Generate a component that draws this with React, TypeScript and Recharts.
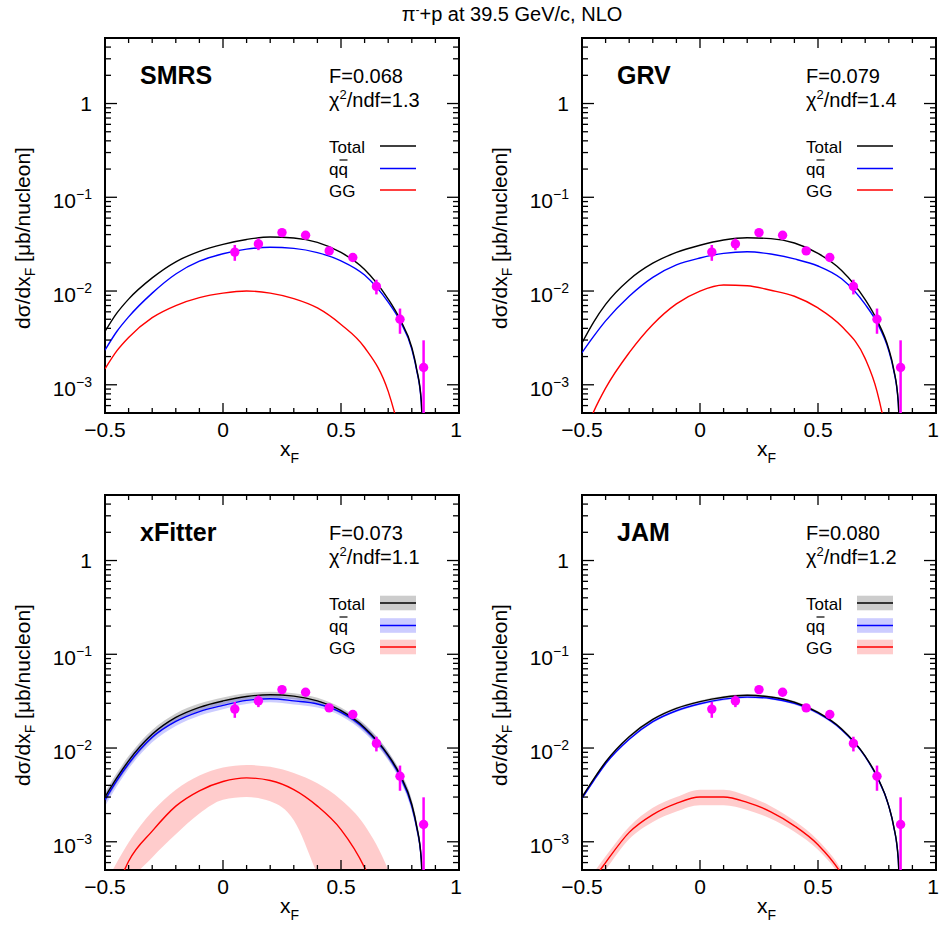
import React from 'react';
import { ComposedChart, Line, Area, Scatter, ErrorBar, XAxis, YAxis, ReferenceArea } from 'recharts';

// x grid of the theory curves
const XS = [-0.5, -0.45, -0.4, -0.3, -0.2, -0.1, 0, 0.1, 0.2, 0.3, 0.4, 0.5, 0.6, 0.7, 0.75, 0.8, 0.82, 0.84, 0.85];

// SMRS
const SMRS_TOTAL = [0.0037, 0.0058, 0.0082, 0.0138, 0.0205, 0.0265, 0.0315, 0.0355, 0.0377, 0.0368, 0.033, 0.0258, 0.017, 0.0082, 0.005, 0.0025, 0.0015, 0.00068, 0.0001];
const SMRS_QQ = [0.00234, 0.0037, 0.0053, 0.0095, 0.0152, 0.0208, 0.025, 0.028, 0.0293, 0.0285, 0.0257, 0.021, 0.0148, 0.0076, 0.0048, 0.0024, 0.00145, 0.00066, 0.0001];
const SMRS_GG = [0.00148, 0.0023, 0.0032, 0.0052, 0.007, 0.0085, 0.0095, 0.01, 0.0095, 0.0083, 0.0066, 0.0044, 0.0025, 0.00085, 0.0003, 0.00008, 0.00005, 0.00004, 0.00004];

// GRV
const GRV_TOTAL = [0.0028, 0.0047, 0.0072, 0.0132, 0.0198, 0.0258, 0.0308, 0.035, 0.037, 0.0362, 0.0325, 0.0252, 0.0166, 0.0081, 0.0049, 0.0024, 0.0015, 0.00066, 0.0001];
const GRV_QQ = [0.0022, 0.0033, 0.0048, 0.0088, 0.014, 0.019, 0.0225, 0.0252, 0.0262, 0.0248, 0.022, 0.0185, 0.0135, 0.0072, 0.0046, 0.0023, 0.00145, 0.00065, 0.0001];
const GRV_GG = [0.00025, 0.00052, 0.00092, 0.0022, 0.0044, 0.0073, 0.01, 0.0116, 0.0114, 0.0102, 0.0088, 0.0066, 0.0042, 0.0019, 0.00085, 0.0002, 0.00008, 0.00005, 0.00005];

// xFitter
const XF_TOTAL = [0.003, 0.0048, 0.0073, 0.014, 0.0212, 0.0272, 0.0318, 0.0355, 0.037, 0.0358, 0.0318, 0.025, 0.0165, 0.0084, 0.0052, 0.0025, 0.0015, 0.00066, 0.0001];
const XF_TOTAL_HI = [0.0034, 0.0054, 0.0082, 0.0156, 0.0234, 0.0298, 0.0346, 0.0384, 0.0398, 0.0385, 0.0343, 0.027, 0.018, 0.0092, 0.0057, 0.0028, 0.0017, 0.00075, 0.00012];
const XF_TOTAL_LO = [0.0026, 0.0042, 0.0064, 0.0125, 0.0191, 0.0248, 0.0292, 0.0328, 0.0343, 0.0332, 0.0294, 0.0231, 0.0151, 0.0076, 0.0047, 0.0022, 0.0013, 0.00057, 0.00008];
const XF_QQ = [0.0028, 0.0045, 0.0068, 0.013, 0.0192, 0.0245, 0.0285, 0.0322, 0.0336, 0.0318, 0.0295, 0.024, 0.016, 0.0082, 0.005, 0.0024, 0.00145, 0.00065, 0.0001];
const XF_QQ_HI = [0.0032, 0.0051, 0.0077, 0.0146, 0.0213, 0.0269, 0.0311, 0.0349, 0.0364, 0.0345, 0.032, 0.026, 0.0175, 0.009, 0.0055, 0.0027, 0.0016, 0.00073, 0.00012];
const XF_QQ_LO = [0.0024, 0.0039, 0.006, 0.0115, 0.0172, 0.0221, 0.0259, 0.0295, 0.0308, 0.0291, 0.027, 0.022, 0.0145, 0.0074, 0.0045, 0.0021, 0.0013, 0.00057, 0.00008];
const XF_GG = [0.00015, 0.00032, 0.00062, 0.0013, 0.0024, 0.0035, 0.0044, 0.0048, 0.0045, 0.0036, 0.0024, 0.00135, 0.00053, 0.00012, 0.00006, 0.00004, 0.00003, 0.00003, 0.00003];
const XF_GG_HI = [0.00035, 0.0006, 0.00098, 0.0021, 0.0036, 0.0051, 0.0062, 0.0066, 0.0063, 0.0054, 0.0042, 0.0028, 0.0015, 0.0005, 0.00022, 0.0001, 0.00007, 0.00006, 0.00006];
const XF_GG_LO = [0.0001, 0.0002, 0.00035, 0.00068, 0.0012, 0.002, 0.0028, 0.003, 0.0027, 0.0017, 0.00045, 0.00012, 0.00004, 0.00002, 0.00002, 0.00002, 0.00002, 0.00002, 0.00002];

// JAM
const JAM_TOTAL = [0.003, 0.0047, 0.0071, 0.0132, 0.0202, 0.0265, 0.0313, 0.0348, 0.0365, 0.035, 0.0308, 0.024, 0.016, 0.0082, 0.005, 0.0024, 0.0015, 0.00066, 0.0001];
const JAM_TOTAL_HI = [0.0031, 0.0048, 0.0073, 0.0136, 0.0208, 0.0273, 0.0322, 0.0358, 0.0376, 0.036, 0.0317, 0.0247, 0.0165, 0.0084, 0.0052, 0.0025, 0.00155, 0.00068, 0.00011];
const JAM_TOTAL_LO = [0.0029, 0.0046, 0.0069, 0.0128, 0.0196, 0.0257, 0.0304, 0.0338, 0.0354, 0.034, 0.0299, 0.0233, 0.0155, 0.008, 0.0048, 0.0023, 0.00145, 0.00064, 0.00009];
const JAM_QQ = [0.0029, 0.0045, 0.0068, 0.0124, 0.0191, 0.025, 0.0297, 0.0332, 0.0349, 0.0338, 0.0299, 0.0235, 0.0157, 0.0081, 0.0049, 0.0024, 0.00148, 0.00065, 0.0001];
const JAM_QQ_HI = [0.003, 0.0046, 0.007, 0.0128, 0.0197, 0.0258, 0.0306, 0.0342, 0.0359, 0.0348, 0.0308, 0.0242, 0.0162, 0.0083, 0.005, 0.0025, 0.00152, 0.00067, 0.00011];
const JAM_QQ_LO = [0.0028, 0.0044, 0.0066, 0.012, 0.0185, 0.0242, 0.0288, 0.0322, 0.0339, 0.0328, 0.029, 0.0228, 0.0152, 0.0079, 0.0048, 0.0023, 0.00144, 0.00063, 0.00009];
const JAM_GG = [0.00025, 0.0004, 0.0006, 0.00126, 0.00195, 0.00257, 0.003, 0.003, 0.00263, 0.00209, 0.00148, 0.00093, 0.00045, 0.000126, 0.00006, 0.00004, 0.00003, 0.00003, 0.00003];
const JAM_GG_HI = [0.0003, 0.00047, 0.0007, 0.00145, 0.0023, 0.003, 0.0036, 0.0036, 0.0031, 0.0024, 0.00168, 0.00104, 0.0005, 0.00014, 0.00007, 0.00004, 0.00003, 0.00003, 0.00003];
const JAM_GG_LO = [0.0002, 0.00033, 0.0005, 0.00107, 0.00163, 0.0021, 0.00245, 0.00245, 0.00218, 0.00176, 0.00128, 0.00082, 0.0004, 0.00011, 0.00005, 0.00003, 0.00002, 0.00002, 0.00002];

// data points (same in every panel)
const DATA_X = [0.05, 0.15, 0.25, 0.35, 0.45, 0.55, 0.65, 0.75, 0.85];
const DATA_Y = [0.026, 0.0318, 0.042, 0.0394, 0.0268, 0.0228, 0.0112, 0.005, 0.00153];
const DATA_ERR_LO = [0.005, 0.0045, 0.002, 0.002, 0.002, 0.0015, 0.002, 0.0015, 0.00103];
const DATA_ERR_HI = [0.005, 0.0045, 0.002, 0.002, 0.002, 0.0015, 0.002, 0.0015, 0.00145];

// axis ticks
const X_TICKS = [-0.5, -0.4, -0.3, -0.2, -0.1, 0, 0.1, 0.2, 0.3, 0.4, 0.5, 0.6, 0.7, 0.8, 0.9, 1];
const Y_TICKS = [
  0.0005, 0.0006, 0.0007, 0.0008, 0.0009,
  0.001, 0.002, 0.003, 0.004, 0.005, 0.006, 0.007, 0.008, 0.009,
  0.01, 0.02, 0.03, 0.04, 0.05, 0.06, 0.07, 0.08, 0.09,
  0.1, 0.2, 0.3, 0.4, 0.5, 0.6, 0.7, 0.8, 0.9,
  1, 2, 3, 4, 5,
];

const PANELS = [
  { name: 'SMRS', f: 'F=0.068', chi: '1.3', total: SMRS_TOTAL, qq: SMRS_QQ, gg: SMRS_GG, left: 0, top: 0 },
  { name: 'GRV', f: 'F=0.079', chi: '1.4', total: GRV_TOTAL, qq: GRV_QQ, gg: GRV_GG, left: 477, top: 0 },
  {
    name: 'xFitter', f: 'F=0.073', chi: '1.1', total: XF_TOTAL, qq: XF_QQ, gg: XF_GG, left: 0, top: 457,
    bands: { totalHi: XF_TOTAL_HI, totalLo: XF_TOTAL_LO, qqHi: XF_QQ_HI, qqLo: XF_QQ_LO, ggHi: XF_GG_HI, ggLo: XF_GG_LO },
  },
  {
    name: 'JAM', f: 'F=0.080', chi: '1.2', total: JAM_TOTAL, qq: JAM_QQ, gg: JAM_GG, left: 477, top: 457,
    bands: { totalHi: JAM_TOTAL_HI, totalLo: JAM_TOTAL_LO, qqHi: JAM_QQ_HI, qqLo: JAM_QQ_LO, ggHi: JAM_GG_HI, ggLo: JAM_GG_LO },
  },
];

const FONT = '"Liberation Sans", Arial, Helvetica, sans-serif';
const MAGENTA = '#ff00ff';

// plot box inside each chart
const W = 470;
const H = 470;
const PL = 105;
const PT = 38;
const PW = 354;
const PH = 375;
const PR = PL + PW;
const PB = PT + PH;

const fmtX = (v: number) => (v < 0 ? '\u2212' + Math.abs(v) : String(v));

const XTick = (p: any) => {
  const v = p.payload.value;
  const x = p.x;
  const major = Math.abs(v * 2 - Math.round(v * 2)) < 1e-6;
  const len = major ? 10 : 5;
  // the last label sits a little inside, like the original
  const lx = v === 1 ? x - 3 : x;
  return (
    <g>
      <line x1={x} x2={x} y1={PB} y2={PB - len} stroke="#000" strokeWidth={1.3} />
      <line x1={x} x2={x} y1={PT} y2={PT + len} stroke="#000" strokeWidth={1.3} />
      {major && (
        <text x={lx} y={PB + 24} textAnchor="middle" fontSize={21} fontFamily={FONT} fill="#000">
          {fmtX(v)}
        </text>
      )}
    </g>
  );
};

const YTick = (p: any) => {
  const v = p.payload.value;
  const y = p.y;
  const lg = Math.log10(v);
  const major = Math.abs(lg - Math.round(lg)) < 1e-6;
  const len = major ? 12 : 6;
  const e = Math.round(lg);
  return (
    <g>
      <line x1={PL} x2={PL + len} y1={y} y2={y} stroke="#000" strokeWidth={1.3} />
      <line x1={PR - len} x2={PR} y1={y} y2={y} stroke="#000" strokeWidth={1.3} />
      {major && e === 0 && (
        <text x={PL - 13} y={y + 7.5} textAnchor="end" fontSize={21} fontFamily={FONT} fill="#000">1</text>
      )}
      {major && e !== 0 && (
        <text x={PL - 13} y={y + 11} textAnchor="end" fontSize={21} fontFamily={FONT} fill="#000">
          10<tspan dy={-9} fontSize={14}>{'\u2212' + -e}</tspan>
        </text>
      )}
    </g>
  );
};

const Dot = (p: any) => <circle cx={p.cx} cy={p.cy} r={4.7} fill={MAGENTA} />;

function Panel({ cfg }: { cfg: any }) {
  const b = cfg.bands;
  const rows = XS.map((x, i) => ({
    x,
    total: cfg.total[i],
    qq: cfg.qq[i],
    gg: cfg.gg[i],
    totalBand: b ? [b.totalLo[i], b.totalHi[i]] : null,
    qqBand: b ? [b.qqLo[i], b.qqHi[i]] : null,
    ggBand: b ? [b.ggLo[i], b.ggHi[i]] : null,
  }));
  const points = DATA_X.map((x, i) => ({ x, y: DATA_Y[i], err: [DATA_ERR_LO[i], DATA_ERR_HI[i]] }));
  const legend = [
    { y: 146, color: '#000000', label: 'Total', ty: 153 },
    { y: 168.5, color: '#0000ff', label: 'qq', ty: 174.5 },
    { y: 190, color: '#ff0000', label: 'GG', ty: 196.5 },
  ];

  return (
    <div style={{ position: 'absolute', left: cfg.left, top: cfg.top, width: W, height: H }}>
      <ComposedChart
        width={W}
        height={H}
        data={rows}
        margin={{ top: PT, right: W - PR, bottom: H - PB - 30, left: PL - 60 }}
        style={{ overflow: 'visible' }}
      >
        <XAxis
          type="number"
          dataKey="x"
          domain={[-0.5, 1]}
          allowDataOverflow
          ticks={X_TICKS}
          interval={0}
          tick={XTick}
          tickLine={false}
          axisLine={false}
          height={30}
        />
        <YAxis
          type="number"
          scale="log"
          domain={[0.0005, 5]}
          allowDataOverflow
          ticks={Y_TICKS}
          interval={0}
          tick={YTick}
          tickLine={false}
          axisLine={false}
          width={60}
        />
        {b && (
          <Area type="monotone" dataKey="totalBand" stroke="none" fill="#000000" fillOpacity={0.2}
            dot={false} activeDot={false} isAnimationActive={false} />
        )}
        {b && (
          <Area type="monotone" dataKey="qqBand" stroke="none" fill="#0000ff" fillOpacity={0.2}
            dot={false} activeDot={false} isAnimationActive={false} />
        )}
        {b && (
          <Area type="monotone" dataKey="ggBand" stroke="none" fill="#ff0000" fillOpacity={0.2}
            dot={false} activeDot={false} isAnimationActive={false} />
        )}
        <Line type="monotone" dataKey="gg" stroke="#ff0000" strokeWidth={1.4} dot={false} activeDot={false} isAnimationActive={false} />
        <Line type="monotone" dataKey="qq" stroke="#0000ff" strokeWidth={1.4} dot={false} activeDot={false} isAnimationActive={false} />
        <Line type="monotone" dataKey="total" stroke="#000000" strokeWidth={1.4} dot={false} activeDot={false} isAnimationActive={false} />
        <Scatter data={points} dataKey="y" shape={Dot} isAnimationActive={false}>
          <ErrorBar dataKey="err" direction="y" width={0} stroke={MAGENTA} strokeWidth={2.5} isAnimationActive={false} />
        </Scatter>
        <ReferenceArea x1={-0.5} x2={1} y1={0.0005} y2={5} fill="none" fillOpacity={0} stroke="#000" strokeWidth={2} />
      </ComposedChart>

      <svg width={W} height={H} style={{ position: 'absolute', left: 0, top: 0, pointerEvents: 'none', overflow: 'visible' }}
        fontFamily={FONT}>
        <text x={140} y={84} fontSize={25} fontWeight="bold" fill="#000">{cfg.name}</text>
        <text x={329} y={82.5} fontSize={20} fill="#000">{cfg.f}</text>
        <text x={329} y={107} fontSize={20} fill="#000">
          {'\u03c7'}<tspan dy={-8} fontSize={13}>2</tspan><tspan dy={8}>{'/ndf=' + cfg.chi}</tspan>
        </text>
        {legend.map((l) => (
          <g key={l.label}>
            {b && <rect x={380} y={l.y - 7.3} width={36} height={14.6} fill={l.color} fillOpacity={0.2} />}
            <line x1={380} x2={416} y1={l.y} y2={l.y} stroke={l.color} strokeWidth={1.5} />
            <text x={329} y={l.ty} fontSize={17} fill="#000">{l.label}</text>
          </g>
        ))}
        <line x1={339.5} x2={347.5} y1={160} y2={160} stroke="#000" strokeWidth={1.2} />
        <text transform="translate(30,238) rotate(-90)" textAnchor="middle" fontSize={21} fill="#000">
          d{'\u03c3'}/dx<tspan dy={5} fontSize={14}>F</tspan><tspan dy={-5}>{' [\u03bcb/nucleon]'}</tspan>
        </text>
        <text x={280} y={456} fontSize={21} fill="#000">
          x<tspan dy={7} fontSize={14}>F</tspan>
        </text>
      </svg>
    </div>
  );
}

export default function App() {
  return (
    <div style={{ position: 'absolute', left: 0, top: 0, width: 940, height: 930, background: '#fff', overflow: 'hidden' }}>
      <svg width={940} height={30} style={{ position: 'absolute', left: 0, top: 0 }} fontFamily={FONT}>
        <text x={512} y={21} textAnchor="middle" fontSize={20} fill="#000">
          {'\u03c0'}<tspan dy={-7} fontSize={12}>-</tspan><tspan dy={7}>+p at 39.5 GeV/c, NLO</tspan>
        </text>
      </svg>
      {PANELS.map((cfg) => (
        <Panel key={cfg.name} cfg={cfg} />
      ))}
    </div>
  );
}
